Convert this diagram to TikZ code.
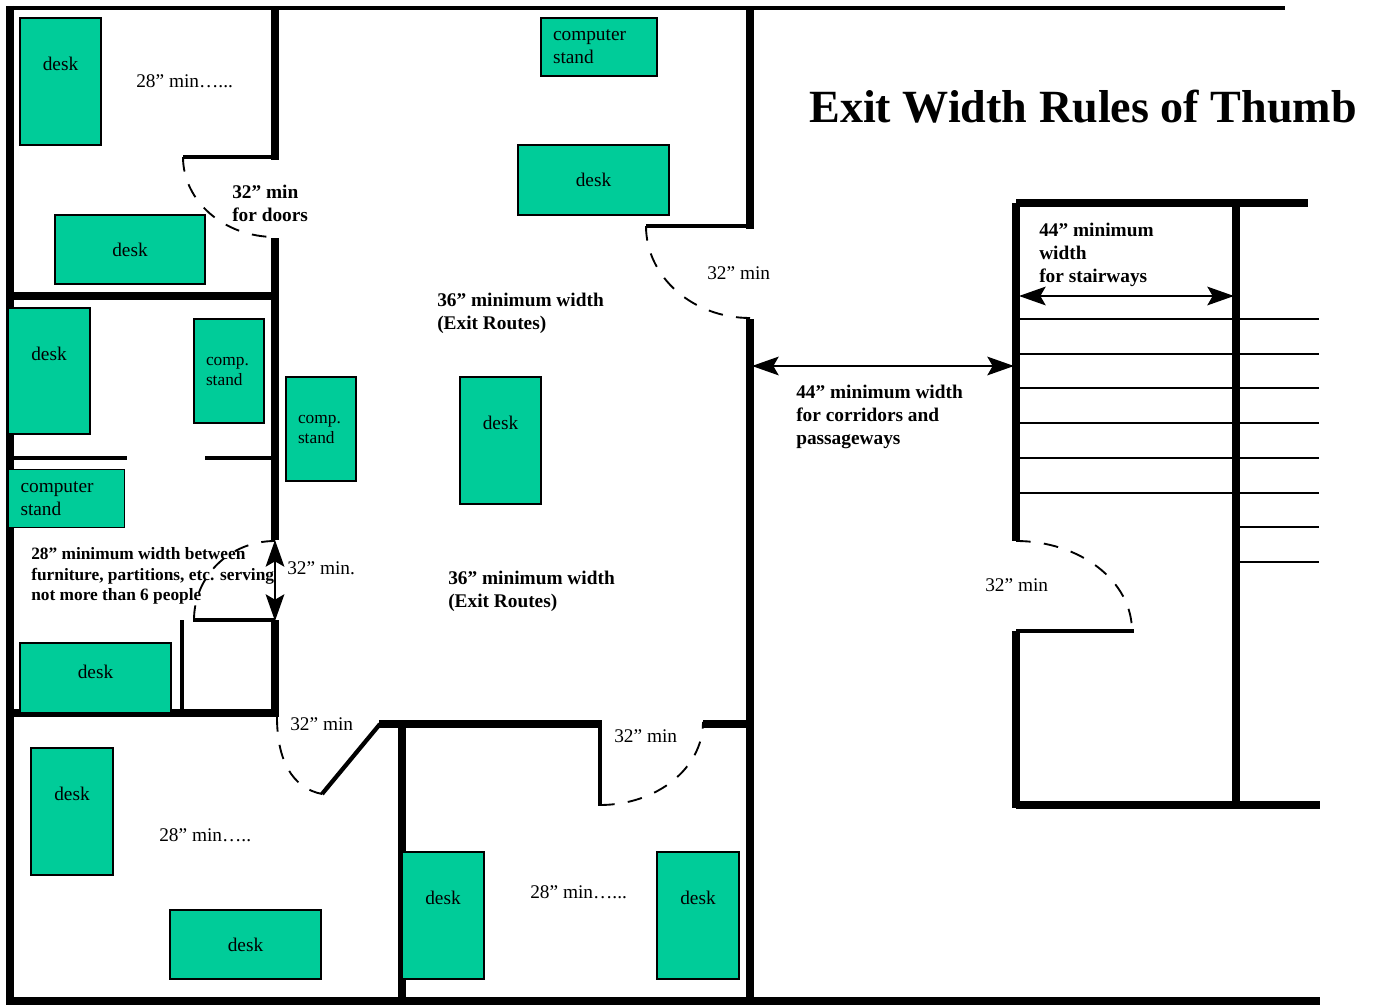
\documentclass[tikz,border=0pt]{standalone}
\usepackage{fontspec}
\setmainfont{Liberation Serif}
\usetikzlibrary{arrows.meta}
\definecolor{deskgreen}{HTML}{00CC99}
\tikzset{
  wall/.style={ draw, line width=5.5pt }
}
\tikzset{
  thinwall/.style={ draw, line width=3.2pt }
}
\tikzset{
  stairline/.style={ draw, line width=1.3pt }
}
\tikzset{
  doorswing/.style={ draw, line width=1.4pt, dash pattern=on 11pt off 10pt }
}
\tikzset{
  dimline/.style={ draw, line width=1.5pt, {Stealth[length=20pt,width=14pt,inset=4pt]}-{Stealth[length=20pt,width=14pt,inset=4pt]} }
}
\tikzset{
  furn/.style={ draw, fill=deskgreen, line width=1.3pt, font=\fontsize{14.5}{17.25}\selectfont }
}
\tikzset{
  deskW/.style={ furn, minimum width=113pt, minimum height=52pt }
}
\tikzset{
  deskT/.style={ furn, minimum width=61pt, minimum height=95pt, text height=10pt, text depth=26pt }
}
\tikzset{
  standW/.style={ furn, minimum width=87pt, minimum height=43.5pt, inner xsep=9pt, text width=69pt, align=left, inner ysep=0pt }
}
\tikzset{
  standT/.style={ furn, font=\fontsize{13}{15}\selectfont, minimum width=52.5pt, minimum height=78pt, inner xsep=9pt, text width=34.5pt, align=left, inner ysep=0pt }
}
\tikzset{
  note/.style={ anchor=west, inner sep=0pt, align=left, font=\fontsize{14.5}{17.25}\selectfont }
}
\tikzset{
  noteB/.style={ note, font=\fontsize{14.5}{17.25}\selectfont\bfseries }
}
\begin{document}
\begin{tikzpicture}[x=0.75pt, y=-0.75pt]
      \useasboundingbox (0, 0) rectangle (1375, 1006);

      % outer walls
      \draw[line width=3.2pt] (10, 8) -- (1285, 8);
      \draw[wall] (10, 6) -- (10, 1005);
      \draw[wall] (6, 1001) -- (1320, 1001);
      \draw[wall] (275, 8) -- (275, 160);
      \draw[wall] (275, 238) -- (275, 540);
      \draw[wall] (275, 620) -- (275, 717);
      \draw[wall] (750, 8) -- (750, 229);
      \draw[wall] (750, 319) -- (750, 1001);
      \draw[wall] (10, 296) -- (275, 296);
      \draw[wall] (10, 713) -- (278, 713);
      \draw[wall] (379, 724) -- (602, 724);
      \draw[wall] (703, 724) -- (750, 724);
      \draw[wall] (402, 724) -- (402, 1001);

      % partitions
      \draw[thinwall] (183, 157) -- (275, 157);
      \draw[thinwall] (646, 226) -- (750, 226);
      \draw[thinwall] (10, 458) -- (127, 458);
      \draw[thinwall] (205, 458) -- (275, 458);
      \draw[thinwall] (193, 620) -- (275, 620);
      \draw[thinwall] (182, 620) -- (182, 712);
      \draw[thinwall] (322, 794) -- (380, 724);
      \draw[thinwall] (600, 724) -- (600, 806);
      \draw[thinwall] (1016, 631) -- (1134, 631);

      % stairs
      \draw[wall] (1016, 203) -- (1016, 541);
      \draw[wall] (1016, 631) -- (1016, 808);
      \draw[wall] (1016, 203) -- (1308, 203);
      \draw[wall] (1236, 203) -- (1236, 805);
      \draw[wall] (1016, 805) -- (1320, 805);
      \foreach \ypos in {319, 354, 388, 423, 458, 493} {
        \draw[stairline] (1019, \ypos) -- (1319, \ypos);
      }
      \draw[stairline] (1240, 527) -- (1319, 527);
      \draw[stairline] (1240, 562) -- (1319, 562);

      % furniture
      \node[deskT] (deskA) at (60.5, 81.5) {desk};
      \node[deskW] (deskB) at (130, 249.5) {desk};
      \node[deskT] (deskC) at (49, 371) {desk};
      \node[standT] (standA) at (229, 371) {comp.\\stand};
      \node[standW] (standB) at (66.5, 498.5) {computer\\stand};
      \node[deskW, text height=10pt, text depth=9pt] (deskD) at (95.5, 678) {desk};
      \node[deskT] (deskE) at (72, 811.5) {desk};
      \node[deskW] (deskF) at (245.5, 944.5) {desk};
      \node[standT] (standC) at (321, 429) {comp.\\stand};
      \node[deskT] (deskG) at (500.5, 440.5) {desk};
      \node[standW] (standD) at (599, 47) {computer\\stand};
      \node[deskW] (deskH) at (593.5, 180) {desk};
      \node[deskT] (deskI) at (443, 915.5) {desk};
      \node[deskT] (deskJ) at (698, 915.5) {desk};

      % door swings
      \draw[doorswing] (183, 157) .. controls (183, 201) and (224, 237) .. (275, 237);
      \draw[doorswing] (646, 226) .. controls (646, 277) and (693, 318) .. (750, 318);
      \draw[doorswing] (194, 620) .. controls (194, 576) and (230, 541) .. (275, 541);
      \draw[doorswing] (277, 717) .. controls (277, 760) and (292, 788) .. (322, 794);
      \draw[doorswing] (600, 805) .. controls (657, 805) and (703, 768) .. (703, 722);
      \draw[doorswing] (1016, 541) .. controls (1080, 541) and (1132, 581) .. (1132, 631);

      % dimensions
      \draw[dimline] (275, 540) -- (275, 621);
      \draw[dimline] (752, 366) -- (1014, 366);
      \draw[dimline] (1019, 296) -- (1234, 296);

      \node[font=\fontsize{34.6}{40}\selectfont\bfseries, inner sep=0pt, anchor=west] (title) at (809, 107) {Exit Width Rules of Thumb};
      \node[note] (minA) at (136, 81) {28” min…...};
      \node[noteB] (doorsNote) at (232, 203) {32” min\\for doors};
      \node[note] (minB) at (707, 273) {32” min};
      \node[noteB] (routesA) at (437, 313) {36” minimum width\\(Exit Routes)};
      \node[noteB] (corrNote) at (796, 417) {44” minimum width\\for corridors and\\passageways};
      \node[noteB] (stairNote) at (1039, 255) {44” minimum\\width\\for stairways};
      \node[noteB, font=\fontsize{13}{15.4}\selectfont\bfseries] (furnNote) at (31, 576) {28” minimum width between\\furniture, partitions, etc. serving\\not more than 6 people};
      \node[note] (minC) at (287, 568) {32” min.};
      \node[noteB] (routesB) at (448, 591) {36” minimum width\\(Exit Routes)};
      \node[note] (minD) at (985, 585) {32” min};
      \node[note] (minE) at (290, 724) {32” min};
      \node[note] (minF) at (614, 736) {32” min};
      \node[note] (minG) at (159, 835) {28” min…..};
      \node[note] (minH) at (530, 892) {28” min…...};
    \end{tikzpicture}
\end{document}
